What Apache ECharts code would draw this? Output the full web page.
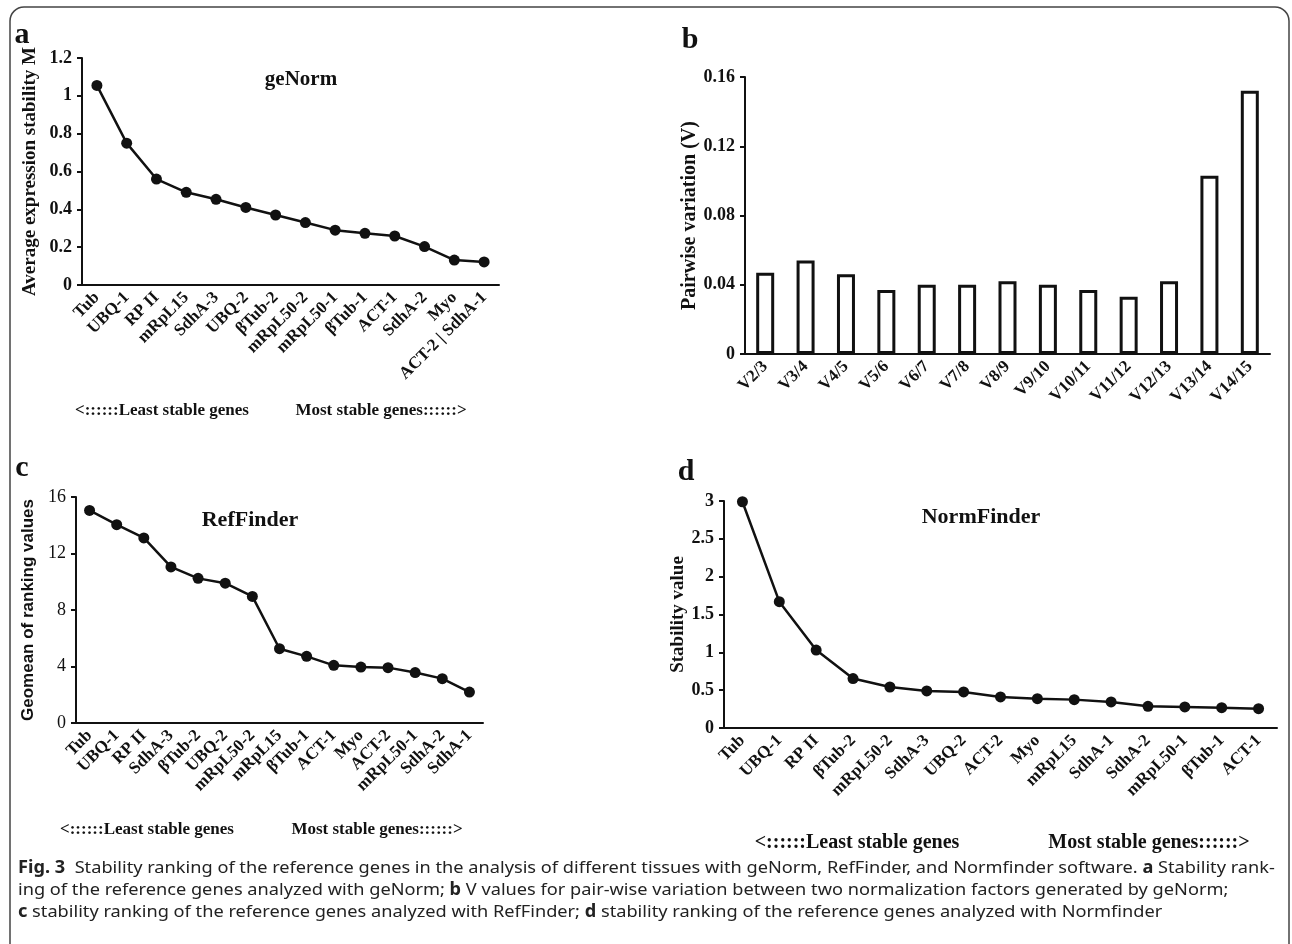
<!DOCTYPE html>
<html>
<head>
    <meta charset="utf-8">
    <title>Stability ranking</title>
    <script src="https://cdn.jsdelivr.net/npm/echarts@6/dist/echarts.min.js"></script>
    <style>
        html, body { margin: 0; padding: 0; background: #fff; }
        #chart-box { width: 1292px; height: 944px; }
    </style>
</head>
<body>
<div id="chart-box"></div>
<script type="text/javascript">
    // a: geNorm
    const genesA = ["Tub", "UBQ-1", "RP II", "mRpL15", "SdhA-3", "UBQ-2", "βTub-2", "mRpL50-2", "mRpL50-1", "βTub-1", "ACT-1", "SdhA-2", "Myo", "ACT-2 | SdhA-1"];
    const valuesA = [1.055, 0.75, 0.56, 0.49, 0.453, 0.41, 0.37, 0.33, 0.29, 0.273, 0.259, 0.203, 0.132, 0.122];
    // b: pairwise variation
    const pairsB = ["V2/3", "V3/4", "V4/5", "V5/6", "V6/7", "V7/8", "V8/9", "V9/10", "V10/11", "V11/12", "V12/13", "V13/14", "V14/15"];
    const valuesB = [0.047, 0.054, 0.046, 0.037, 0.040, 0.040, 0.042, 0.040, 0.037, 0.033, 0.042, 0.103, 0.152];
    // c: RefFinder
    const genesC = ["Tub", "UBQ-1", "RP II", "SdhA-3", "βTub-2", "UBQ-2", "mRpL50-2", "mRpL15", "βTub-1", "ACT-1", "Myo", "ACT-2", "mRpL50-1", "SdhA-2", "SdhA-1"];
    const valuesC = [15.05, 14.04, 13.1, 11.05, 10.24, 9.9, 8.96, 5.26, 4.72, 4.08, 3.96, 3.92, 3.57, 3.14, 2.19];
    // d: NormFinder
    const genesD = ["Tub", "UBQ-1", "RP II", "βTub-2", "mRpL50-2", "SdhA-3", "UBQ-2", "ACT-2", "Myo", "mRpL15", "SdhA-1", "SdhA-2", "mRpL50-1", "βTub-1", "ACT-1"];
    const valuesD = [2.99, 1.67, 1.03, 0.653, 0.542, 0.49, 0.477, 0.41, 0.388, 0.375, 0.344, 0.287, 0.278, 0.269, 0.256];

    const serif = "Liberation Serif";
    const ink = "#111";

    function xAxisOf(gridIndex, data) {
        return {
            type: "category", gridIndex: gridIndex, data: data,
            axisLine: { lineStyle: { color: ink, width: 2 } },
            axisTick: { length: 5, lineStyle: { color: ink, width: 2 } },
            axisLabel: { rotate: 45, interval: 0, margin: 10, color: ink, fontFamily: serif, fontWeight: "bold", fontSize: 17 }
        };
    }
    function yAxisOf(gridIndex, max, interval, name, nameGap, nameFont, nameSize, labelWeight) {
        return {
            type: "value", gridIndex: gridIndex, min: 0, max: max, interval: interval,
            name: name, nameLocation: "middle", nameRotate: 90, nameGap: nameGap,
            nameTextStyle: { color: ink, fontFamily: nameFont, fontWeight: "bold", fontSize: nameSize },
            splitLine: { show: false },
            axisLine: { show: true, lineStyle: { color: ink, width: 2 } },
            axisTick: { show: true, length: 5, lineStyle: { color: ink, width: 2 } },
            axisLabel: { margin: 10, color: ink, fontFamily: serif, fontWeight: labelWeight, fontSize: 18 }
        };
    }
    function lineSeries(index, values) {
        return {
            type: "line", xAxisIndex: index, yAxisIndex: index, data: values,
            symbol: "circle", symbolSize: 11,
            lineStyle: { color: ink, width: 2.5 },
            itemStyle: { color: ink }
        };
    }
    function label(x, y, text, size, family, weight) {
        return {
            type: "text", x: x, y: y,
            style: { text: text, fill: ink, font: (weight || "bold") + " " + size + "px '" + (family || serif) + "'", align: "center", verticalAlign: "middle" }
        };
    }
    function captionLine(y, text) {
        return {
            type: "text", x: 18, y: y, scaleX: 1.07,
            style: {
                text: text, fill: "#222", font: "17px 'Noto Sans'", verticalAlign: "middle",
                rich: { b: { font: "bold 17px 'Noto Sans'", fill: "#222" } }
            }
        };
    }

    const chart = echarts.init(document.getElementById("chart-box"));
    chart.setOption({
        backgroundColor: "#fff",
        animation: false,
        grid: [
            { left: 82, top: 58, width: 417, height: 227 },
            { left: 745, top: 77, width: 525, height: 277 },
            { left: 76, top: 497, width: 407, height: 226 },
            { left: 724, top: 501, width: 553, height: 227 }
        ],
        xAxis: [xAxisOf(0, genesA), xAxisOf(1, pairsB), xAxisOf(2, genesC), xAxisOf(3, genesD)],
        yAxis: [
            yAxisOf(0, 1.2, 0.2, "Average expression stability M", 42, serif, 19, "bold"),
            yAxisOf(1, 0.16, 0.04, "Pairwise variation (V)", 41, serif, 20, "bold"),
            yAxisOf(2, 16, 4, "Geomean of ranking values", 39, "Liberation Sans", 17, "normal"),
            yAxisOf(3, 3, 0.5, "Stability value", 26, serif, 19, "bold")
        ],
        series: [
            lineSeries(0, valuesA),
            {
                type: "bar", xAxisIndex: 1, yAxisIndex: 1, data: valuesB, barWidth: 18,
                itemStyle: { color: "#fff", borderColor: ink, borderWidth: 3 }
            },
            lineSeries(2, valuesC),
            lineSeries(3, valuesD)
        ],
        graphic: [
            {
                type: "rect", shape: { x: 10, y: 7, width: 1279, height: 990, r: 14 },
                style: { fill: "none", stroke: "#444", lineWidth: 1.5 }
            },
            label(22, 35, "a", 30), label(690, 40, "b", 30), label(22, 468, "c", 30), label(686, 472, "d", 30),
            label(301, 80, "geNorm", 21), label(250, 520, "RefFinder", 22), label(981, 517, "NormFinder", 22),
            label(162, 411, "<::::::Least stable genes", 17), label(381, 411, "Most stable genes::::::>", 17),
            label(147, 830, "<::::::Least stable genes", 17), label(377, 830, "Most stable genes::::::>", 17),
            label(857, 843, "<::::::Least stable genes", 20), label(1149, 843, "Most stable genes::::::>", 20),
            captionLine(868, "{b|Fig. 3}  Stability ranking of the reference genes in the analysis of different tissues with geNorm, RefFinder, and Normfinder software. {b|a} Stability rank-"),
            captionLine(890, "ing of the reference genes analyzed with geNorm; {b|b} V values for pair-wise variation between two normalization factors generated by geNorm;"),
            captionLine(912, "{b|c} stability ranking of the reference genes analyzed with RefFinder; {b|d} stability ranking of the reference genes analyzed with Normfinder")
        ]
    });
</script>
</body>
</html>
